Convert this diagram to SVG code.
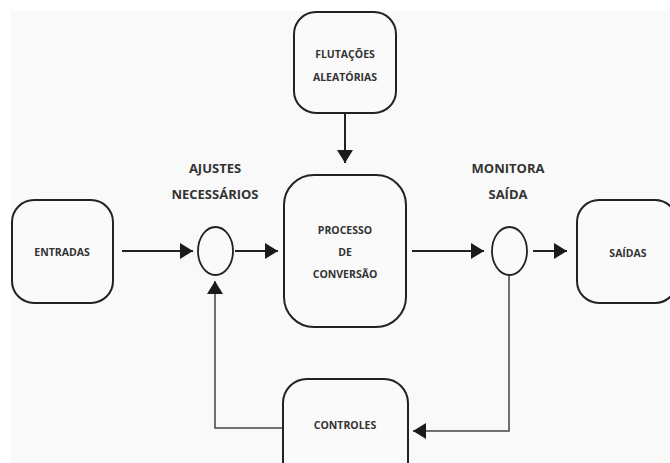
<svg xmlns="http://www.w3.org/2000/svg" width="670" height="463" viewBox="0 0 670 463">
<defs>
<style>
.box{fill:#fafafa;stroke:#222;stroke-width:2}
.circ{fill:#fafafa;stroke:#222;stroke-width:1.8}
.t{font-family:"Open Sans","Noto Sans","DejaVu Sans",sans-serif;font-weight:700;font-size:10.5px;fill:#333;text-anchor:middle;dominant-baseline:central}
.lbl{font-family:"Open Sans","Noto Sans","DejaVu Sans",sans-serif;font-weight:700;font-size:13px;fill:#333;text-anchor:middle;dominant-baseline:central}
.ln{fill:none;stroke:#222;stroke-width:2}
.fb{fill:none;stroke:#444;stroke-width:1.5}
</style>
<marker id="ah" markerUnits="userSpaceOnUse" markerWidth="14" markerHeight="16" refX="13" refY="8" orient="auto">
<path d="M0,0 L13,8 L0,16 Z" fill="#1a1a1a"/>
</marker>
</defs>
<rect x="0" y="0" width="670" height="463" fill="#ffffff"/>
<rect x="11" y="11" width="659" height="452" fill="#f9f9f9"/>

<g id="connectors">
<line class="ln" x1="345" y1="113" x2="345" y2="163" marker-end="url(#ah)"/>
<line class="ln" x1="122" y1="251" x2="193" y2="251" marker-end="url(#ah)"/>
<line class="ln" x1="235" y1="251" x2="278" y2="251" marker-end="url(#ah)"/>
<line class="ln" x1="412" y1="251" x2="484" y2="251" marker-end="url(#ah)"/>
<line class="ln" x1="533" y1="251" x2="567" y2="251" marker-end="url(#ah)"/>
<polyline class="fb" points="509,275 509,431 413,431" marker-end="url(#ah)"/>
<polyline class="fb" points="283,428 215,428 215,281" marker-end="url(#ah)"/>
</g>

<g id="flutacoes">
<rect class="box" x="294" y="12" width="102" height="101" rx="22"/>
<text class="t" x="345" y="54">FLUTAÇÕES</text>
<text class="t" x="345" y="77">ALEATÓRIAS</text>
</g>

<g id="entradas">
<rect class="box" x="12" y="200" width="101" height="103" rx="22"/>
<text class="t" x="62" y="252">ENTRADAS</text>
</g>

<g id="ajustes">
<ellipse class="circ" cx="215.5" cy="251" rx="17.5" ry="24"/>
<text class="lbl" x="215" y="168">AJUSTES</text>
<text class="lbl" x="215" y="194">NECESSÁRIOS</text>
</g>

<g id="processo">
<rect class="box" x="284" y="175" width="122" height="152" rx="30"/>
<text class="t" x="345" y="230">PROCESSO</text>
<text class="t" x="345" y="252">DE</text>
<text class="t" x="345" y="274">CONVERSÃO</text>
</g>

<g id="monitora">
<ellipse class="circ" cx="509.5" cy="251" rx="17.5" ry="24"/>
<text class="lbl" x="508" y="168">MONITORA</text>
<text class="lbl" x="508" y="194">SAÍDA</text>
</g>

<g id="saidas">
<rect class="box" x="577" y="200" width="100" height="103" rx="22"/>
<text class="t" x="628" y="253">SAÍDAS</text>
</g>

<g id="controles">
<rect class="box" x="283" y="379" width="125" height="110" rx="24"/>
<text class="t" x="345" y="425">CONTROLES</text>
</g>
</svg>
